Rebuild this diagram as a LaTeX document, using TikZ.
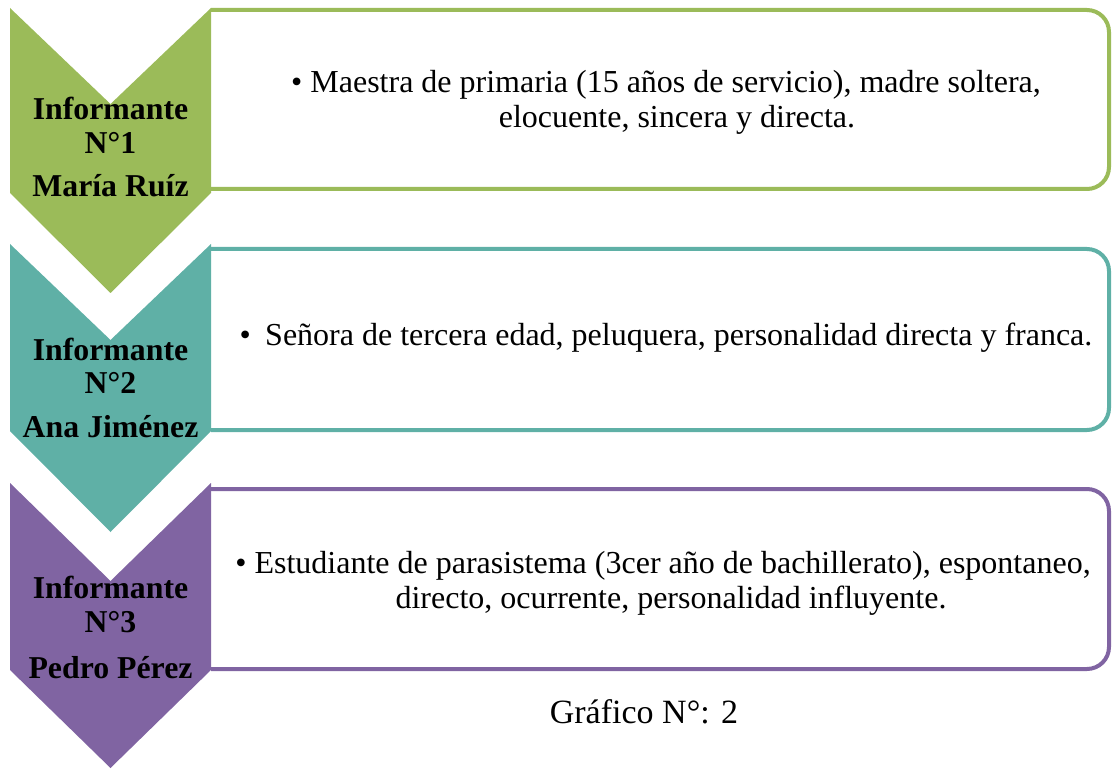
\documentclass[tikz,border=0pt]{standalone}
\usepackage{fontspec}
\setmainfont{Liberation Serif}
\definecolor{cgreen}{HTML}{9BBB59}
\definecolor{cteal}{HTML}{5FB0A6}
\definecolor{cpurple}{HTML}{8064A2}
\tikzset{
  chev/.style={fill=#1, draw=none},
  box/.style={draw=#1, line width=4pt, rounded corners=22pt, fill=white},
  lab/.style={font=\fontsize{31.8}{31.8}\selectfont\bfseries, anchor=base, inner sep=0pt},
  body/.style={font=\fontsize{32}{32}\selectfont, anchor=base, inner sep=0pt},
  captxt/.style={font=\fontsize{34}{34}\selectfont, anchor=base, inner sep=0pt},
}
\begin{document}
\begin{tikzpicture}[x=1pt,y=-1pt]
\useasboundingbox (0,0) rectangle (1112,770);
% boxes
\draw[box=cgreen] (211,10) -- (1109,10) -- (1109,189) -- (211,189);
\draw[box=cteal] (211,249) -- (1109,249) -- (1109,430) -- (211,430);
\draw[box=cpurple] (211,489) -- (1109,489) -- (1109,669) -- (211,669);
% chevrons
\fill[chev=cgreen] (10,8) -- (110.5,104) -- (211,8) -- (211,193) -- (110.5,293) -- (10,193) -- cycle;
\fill[chev=cteal] (10,244) -- (110.5,340) -- (211,244) -- (211,431) -- (110.5,532) -- (10,431) -- cycle;
\fill[chev=cpurple] (10,483) -- (110.5,581) -- (211,483) -- (211,670) -- (110.5,768) -- (10,670) -- cycle;
% labels
\node[lab] (l1a) at (110.5,120) {Informante};
\node[lab] (l1b) at (110.5,154) {N°1};
\node[lab] (l1c) at (110.5,197) {María Ruíz};
\node[lab] (l2a) at (110.5,360) {Informante};
\node[lab] (l2b) at (110.5,393) {N°2};
\node[lab] (l2c) at (110.5,437) {Ana Jiménez};
\node[lab] (l3a) at (110.5,598) {Informante};
\node[lab] (l3b) at (110.5,632) {N°3};
\node[lab] (l3c) at (110.5,678) {Pedro Pérez};
% body
\node[body] (t1a) at (666,93) {\textbullet\ Maestra de primaria (15 años de servicio), madre soltera,};
\node[body] (t1b) at (677,128) {elocuente, sincera y directa.};
\node[body] (t2a) at (666,345) {\textbullet\hspace{0.45em}Señora de tercera edad, peluquera, personalidad directa y franca.};
\node[body] (t3a) at (663,573) {\textbullet\ Estudiante de parasistema (3cer año de bachillerato), espontaneo,};
\node[body] (t3b) at (671,608) {directo, ocurrente, personalidad influyente.};
\node[captxt] (cap) at (644,723) {Gráfico N°: 2};
\end{tikzpicture}
\end{document}
